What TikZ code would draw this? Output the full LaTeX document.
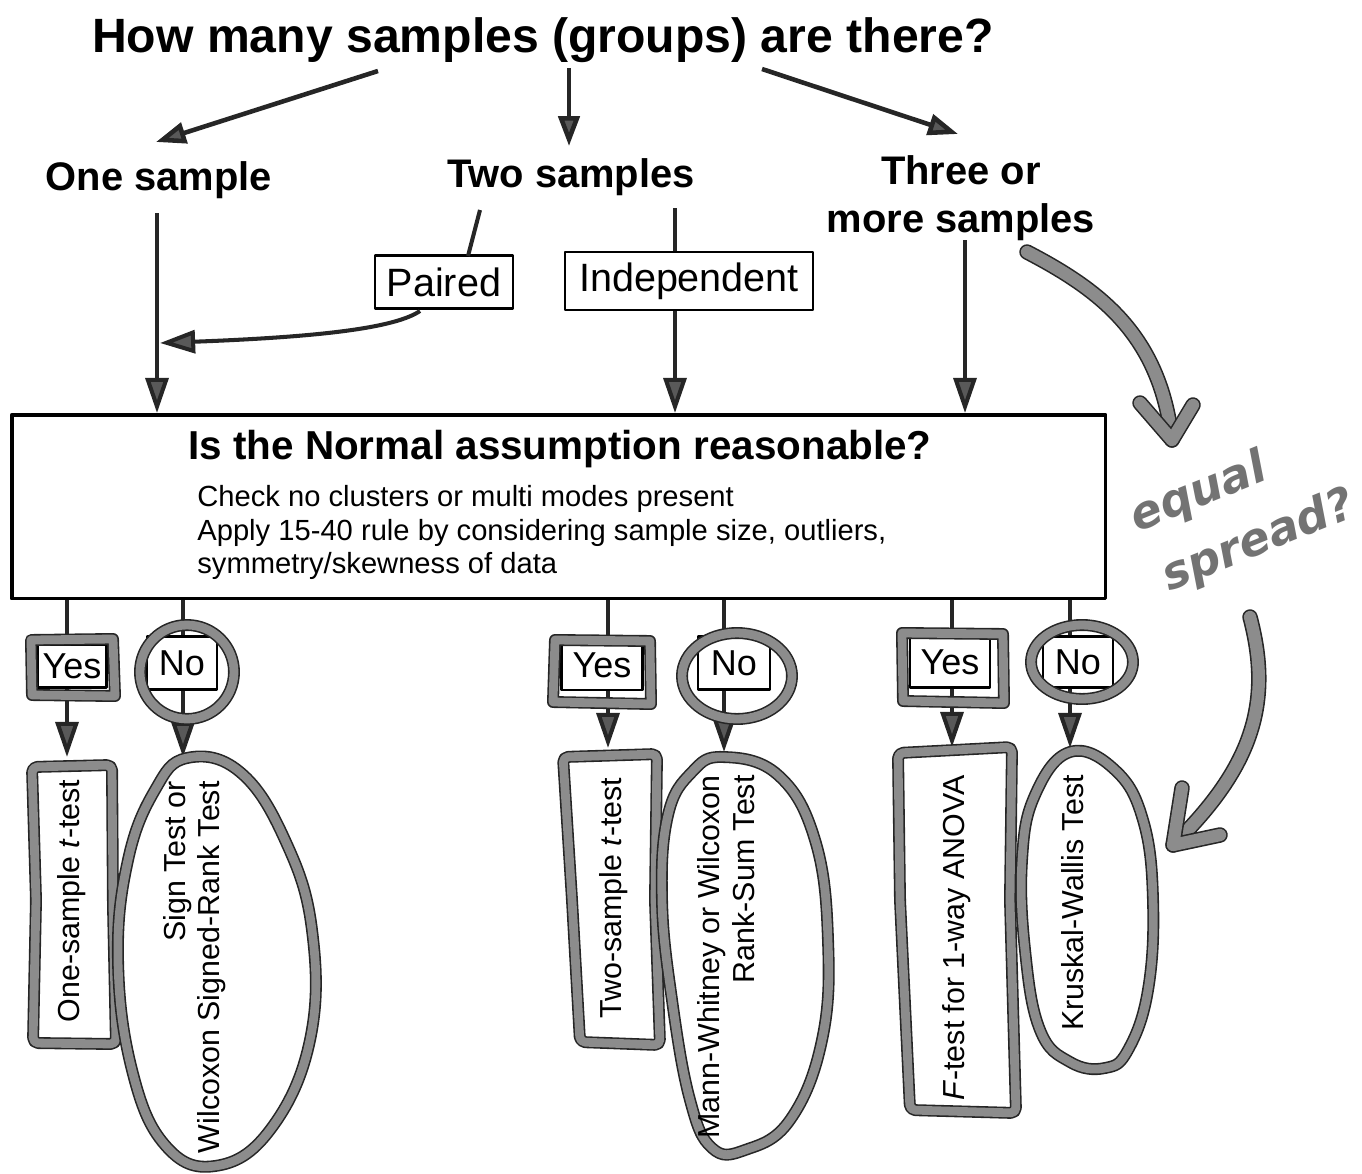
\documentclass[tikz,border=0pt]{standalone}
\usepackage{fontspec}
\setmainfont{Liberation Sans}
\newfontfamily\handfont{DejaVu Sans}
\usetikzlibrary{arrows.meta,calc}
\newcommand\fz[2]{\fontsize{#1}{#2}\selectfont}
\begin{document}
\begin{tikzpicture}[x=0.02cm,y=-0.02cm,
  line join=round,
  conn/.style={line width=2.3pt,draw=black!85},
  arr/.style={conn,-{Triangle[length=20pt,width=13pt,fill=black!65]}},
  arrtop/.style={line width=2.6pt,draw=black!85,-{Triangle[length=17pt,width=12pt,fill=black!65]}},
  qtitle/.style={font=\bfseries\fz{27.4pt}{33pt},inner sep=0pt},
  lvl/.style={font=\bfseries\fz{22.7pt}{27.2pt},inner sep=0pt,align=center},
  qnorm/.style={font=\bfseries\fz{23pt}{27pt},inner sep=0pt},
  body/.style={font=\fz{16.6pt}{19pt},inner sep=0pt,anchor=base west},
  tagbox/.style={draw=black,line width=1.3pt,fill=white,font=\fz{22.5pt}{27pt},inner sep=0pt},
  ynbox/.style={draw=black,line width=1.3pt,fill=white,font=\fz{20.5pt}{24pt},inner sep=0pt},
  hl/.style={draw=black!85,line width=0.9pt,double=black!45,double distance=5pt,line cap=round,line join=round},
  hlarrow/.style={draw=black!85,line width=0.9pt,double=black!45,double distance=7pt,line cap=round,line join=round},
  testlbl/.style={font=\fz{17.3pt}{19.5pt},inner sep=0pt,rotate=90},
  hand/.style={text=black!55,inner sep=0pt}
]
\useasboundingbox (0,0) rectangle (1362,1173);

% ---------- top level ----------
\node[qtitle,anchor=base] (q) at (543,52) {How many samples (groups) are there?};
\node[lvl,anchor=base] (one) at (159,190) {One sample};
\node[lvl,anchor=base] (two) at (571,187) {Two samples};
\node[lvl,anchor=base] (three) at (961,232) {Three or\\more samples};

\coordinate (qa) at (378,71);  \coordinate (oneT) at (156,142);
\coordinate (qb) at (569,68);  \coordinate (twoT) at (569,146);
\coordinate (qc) at (762,69);  \coordinate (threeT) at (958,134);
\draw[arrtop] (qa) -- (oneT);
\draw[arrtop] (qb) -- (twoT);
\draw[arrtop] (qc) -- (threeT);

% ---------- paired / independent ----------
\node[tagbox,minimum width=2.76cm,minimum height=1.06cm] (paired) at (444,282) {Paired};
\node[tagbox,minimum width=4.96cm,minimum height=1.16cm] (indep) at (689,281) {Independent};

% main box
\node[draw=black,line width=2pt,minimum width=21.88cm,minimum height=3.68cm,anchor=north west,inner sep=0pt] (nbox) at (10,413) {};
\node[qnorm,anchor=base] (nq) at (560,459) {Is the Normal assumption reasonable?};
\node[body] (b1) at (197,506) {Check no clusters or multi modes present};
\node[body] (b2) at (197,540) {Apply 15-40 rule by considering sample size, outliers,};
\node[body] (b3) at (197,573) {symmetry/skewness of data};

\coordinate (oneS) at (157,213);
\coordinate (twoL) at (480,210);
\coordinate (twoR) at (675,208);
\coordinate (threeS) at (965,240);
\coordinate (pairC) at (468,256);
\coordinate (pairOut) at (420,311);
\coordinate (pairT) at (160,343);

\draw[arr] (oneS) -- (oneS |- nbox.north);
\draw[conn] (twoL) -- (pairC);
\draw[arr] (pairOut) .. controls (395,328) and (320,337) .. (pairT);
\draw[conn] (twoR) -- (twoR |- indep.north);
\draw[arr] (twoR |- indep.south) -- (twoR |- nbox.north);
\draw[arr] (threeS) -- (threeS |- nbox.north);

% ---------- yes / no ----------
\coordinate (x1) at (67,0);   \coordinate (x2) at (183,0);
\coordinate (x3) at (608,0);  \coordinate (x4) at (724,0);
\coordinate (x5) at (952,0);  \coordinate (x6) at (1070,0);

\coordinate (t1) at (67,757);   \coordinate (t2) at (183,757);
\coordinate (t3) at (608,748);  \coordinate (t4) at (724,752);
\coordinate (t5) at (952,747);  \coordinate (t6) at (1070,748);

\node[ynbox,minimum width=1.38cm,minimum height=0.86cm] (yes1) at (72,666) {Yes};
\node[ynbox,minimum width=1.40cm,minimum height=1.06cm] (no1) at (182,663) {No};
\node[ynbox,minimum width=1.62cm,minimum height=1.00cm] (yes2) at (602,665) {Yes};
\node[ynbox,minimum width=1.44cm,minimum height=1.06cm] (no2) at (734,663) {No};
\node[ynbox,minimum width=1.60cm,minimum height=1.02cm] (yes3) at (950,662) {Yes};
\node[ynbox,minimum width=1.40cm,minimum height=1.02cm] (no3) at (1078,662) {No};

\draw[conn] (nbox.south -| x1) -- (yes1.north -| x1);
\draw[conn] (nbox.south -| x2) -- (no1.north -| x2);
\draw[conn] (nbox.south -| x3) -- (yes2.north -| x3);
\draw[conn] (nbox.south -| x4) -- (no2.north -| x4);
\draw[conn] (nbox.south -| x5) -- (yes3.north -| x5);
\draw[conn] (nbox.south -| x6) -- (no3.north -| x6);

\draw[arr] (yes1.south -| x1) -- (t1);
\draw[arr] (no1.south -| x2) -- (t2);
\draw[arr] (yes2.south -| x3) -- (t3);
\draw[arr] (no2.south -| x4) -- (t4);
\draw[arr] (yes3.south -| x5) -- (t5);
\draw[arr] (no3.south -| x6) -- (t6);

% highlighter marks around yes / no
\draw[hl] (31,640) -- (113,639) -- (115,696) -- (32,695) -- cycle;
\draw[hl] (555,640) -- (650,641) -- (651,704) -- (553,702) -- cycle;
\draw[hl] (902,633) -- (1003,634) -- (1004,703) -- (903,701) -- cycle;
\draw[hl] (187,672) ellipse [x radius=0.94cm, y radius=0.94cm];
\draw[hl] (737,676) ellipse [x radius=1.10cm, y radius=0.86cm];
\draw[hl] (1082,662) ellipse [x radius=1.02cm, y radius=0.74cm];

% ---------- result tests ----------
\draw[hl,rounded corners=3pt] (32,767) -- (112,765) -- (113,905) -- (116,1044) -- (33,1043) -- (36,900) -- cycle;
\draw[hl] plot[smooth cycle,tension=0.7] coordinates {(187,758) (240,772) (285,840) (312,930) (310,1040) (270,1130) (215,1166) (165,1145) (132,1070) (118,960) (128,860) (155,790)};
\draw[hl,rounded corners=3pt] (563,757) -- (657,754) -- (655,900) -- (660,1045) -- (580,1042) -- (572,900) -- cycle;
\draw[hl] plot[smooth cycle,tension=0.7] coordinates {(723,757) (778,775) (815,840) (828,940) (822,1040) (790,1120) (745,1150) (712,1148) (690,1100) (672,1000) (662,900) (668,815) (692,772)};
\draw[hl,rounded corners=3pt] (898,753) -- (1012,747) -- (1010,900) -- (1016,1113) -- (910,1110) -- (900,900) -- cycle;
\draw[hl] plot[smooth cycle,tension=0.7] coordinates {(1070,752) (1115,770) (1143,820) (1153,900) (1148,990) (1128,1050) (1105,1068) (1070,1062) (1040,1030) (1025,950) (1022,860) (1035,795)};

\node[testlbl] (r1) at (72,901) {One-sample \textit{t}-test};
\node[testlbl,align=right,anchor=east] (r2) at (195,781) {Sign Test or\\Wilcoxon Signed-Rank Test};
\node[testlbl] (r3) at (614,898) {Two-sample \textit{t}-test};
\node[testlbl,align=right,anchor=east] (r4) at (726,775) {Mann-Whitney or Wilcoxon\\Rank-Sum Test};
\node[testlbl] (r5) at (957,938) {\textit{F}-test for 1-way ANOVA};
\node[testlbl] (r6) at (1073,903) {Kruskal-Wallis Test};

% ---------- hand-drawn note ----------
\coordinate (h1s) at (1027,252);
\coordinate (h1t) at (1172,440);
\coordinate (h1a) at (1140,403);
\coordinate (h1b) at (1193,405);
\draw[hlarrow] (h1s) .. controls (1100,290) and (1160,335) .. (h1t);
\draw[hlarrow] (h1a) -- (h1t) -- (h1b);

\node[hand,rotate=22,align=left,font=\handfont\bfseries\itshape\fz{26pt}{38pt}] (note) at (1243,512) {equal\\\hspace*{0.15em}spread?};

\coordinate (h2s) at (1250,617);
\coordinate (h2t) at (1173,845);
\coordinate (h2a) at (1182,788);
\coordinate (h2b) at (1220,835);
\draw[hlarrow] (h2s) .. controls (1272,700) and (1255,765) .. (h2t);
\draw[hlarrow] (h2a) -- (h2t) -- (h2b);
\end{tikzpicture}
\end{document}
